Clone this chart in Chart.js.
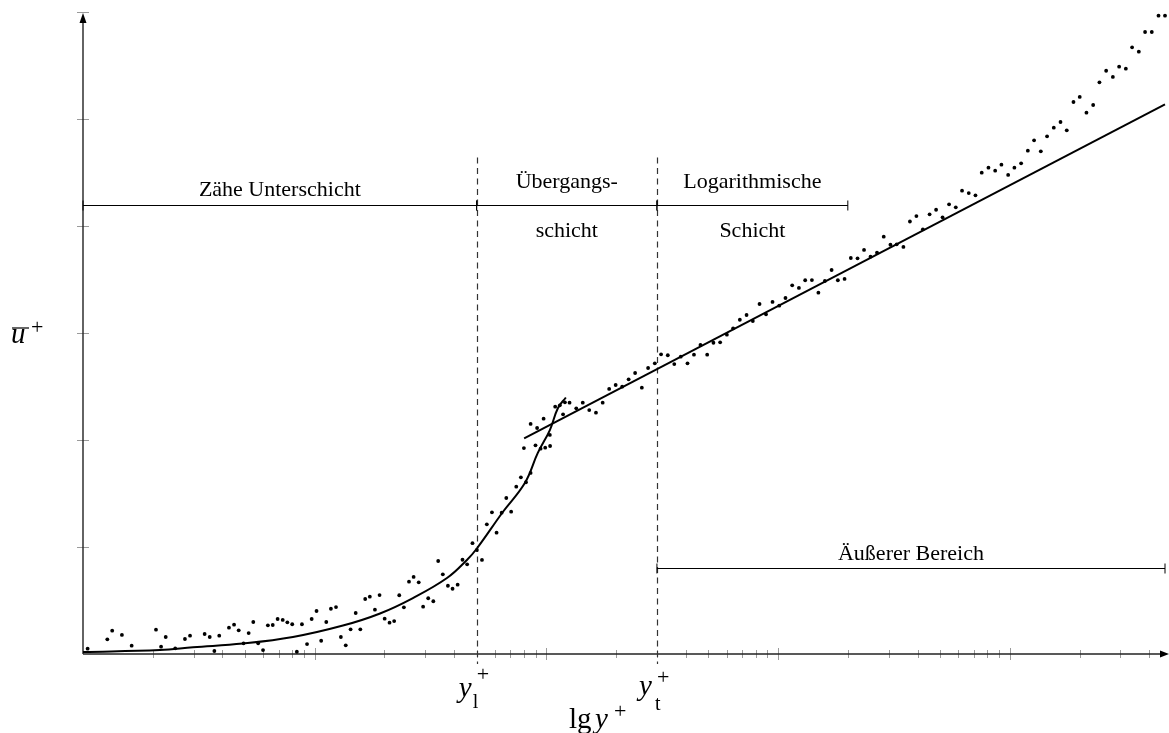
<!DOCTYPE html>
<html>
<head>
<meta charset="utf-8">
<script src="https://cdn.jsdelivr.net/npm/chart.js@4/dist/chart.umd.min.js"></script>
<style>
  html, body { margin: 0; padding: 0; background: #fff; }
  #wrap { width: 1169px; height: 733px; position: relative; }
</style>
</head>
<body>
<div id="wrap"><canvas id="chart-canvas"></canvas></div>
<script>
"use strict";
// measured points: x = lg y+, y = u+ (in tick units)
const dotLg = [
    0.020, 0.105, 0.126, 0.168, 0.210, 0.315, 0.337, 0.357, 0.398, 0.440,
    0.462, 0.525, 0.547, 0.567, 0.588, 0.630, 0.652, 0.672, 0.693, 0.715,
    0.735, 0.756, 0.777, 0.798, 0.819, 0.840, 0.862, 0.882, 0.903, 0.923,
    0.945, 0.967, 0.987, 1.008, 1.028, 1.050, 1.070, 1.092, 1.113, 1.134,
    1.155, 1.177, 1.197, 1.218, 1.238, 1.260, 1.280, 1.302, 1.323, 1.343,
    1.365, 1.385, 1.407, 1.427, 1.449, 1.468, 1.490, 1.512, 1.533, 1.553,
    1.575, 1.595, 1.617, 1.638, 1.658, 1.681, 1.700, 1.722, 1.743, 1.765,
    1.785, 1.807, 1.827, 1.848, 1.870, 1.890, 1.912, 1.932, 1.903, 1.932,
    1.953, 1.960, 1.975, 1.988, 1.995, 2.016, 2.015, 2.038, 2.058, 2.072,
    2.080, 2.100, 2.129, 2.157, 2.185, 2.214, 2.243, 2.271, 2.299, 2.327,
    2.355, 2.383, 2.412, 2.439, 2.468, 2.495, 2.524, 2.552, 2.580, 2.609,
    2.637, 2.665, 2.694, 2.721, 2.750, 2.779, 2.806, 2.835, 2.864, 2.891,
    2.920, 2.948, 2.976, 3.005, 3.032, 3.061, 3.090, 3.117, 3.146, 3.174,
    3.202, 3.231, 3.258, 3.287, 3.314, 3.343, 3.371, 3.399, 3.427, 3.456,
    3.485, 3.512, 3.541, 3.569, 3.597, 3.625, 3.654, 3.682, 3.710, 3.738,
    3.767, 3.794, 3.823, 3.852, 3.879, 3.908, 3.937, 3.964, 3.993, 4.020,
    4.049, 4.078, 4.105, 4.134, 4.161, 4.190, 4.219, 4.246, 4.275, 4.302,
    4.331, 4.360, 4.387, 4.416, 4.445, 4.472, 4.501, 4.528, 4.557, 4.584,
    4.613, 4.642, 4.670
];
const dotU = [
    0.050, 0.137, 0.218, 0.178, 0.078, 0.227, 0.068, 0.159, 0.053, 0.140,
    0.171, 0.187, 0.159, 0.028, 0.171, 0.246, 0.274, 0.221, 0.100, 0.196,
    0.299, 0.100, 0.037, 0.268, 0.271, 0.327, 0.318, 0.296, 0.278, 0.021,
    0.278, 0.093, 0.327, 0.402, 0.124, 0.299, 0.423, 0.439, 0.159, 0.081,
    0.231, 0.383, 0.231, 0.514, 0.536, 0.414, 0.551, 0.330, 0.293, 0.308,
    0.549, 0.436, 0.676, 0.720, 0.670, 0.442, 0.521, 0.493, 0.869, 0.745,
    0.638, 0.610, 0.648, 0.881, 0.838, 1.036, 0.972, 0.879, 1.212, 1.324,
    1.134, 1.321, 1.458, 1.330, 1.564, 1.651, 1.605, 1.692, 1.925, 2.150,
    1.950, 2.112, 1.919, 2.199, 1.928, 1.944, 2.047, 2.311, 2.324, 2.240,
    2.352, 2.349, 2.296, 2.349, 2.280, 2.255, 2.349, 2.477, 2.514, 2.498,
    2.567, 2.626, 2.489, 2.673, 2.717, 2.801, 2.792, 2.710, 2.779, 2.717,
    2.797, 2.888, 2.797, 2.909, 2.913, 2.984, 3.044, 3.124, 3.168, 3.112,
    3.271, 3.175, 3.290, 3.255, 3.327, 3.446, 3.421, 3.493, 3.495, 3.377,
    3.486, 3.589, 3.493, 3.505, 3.701, 3.698, 3.776, 3.713, 3.750, 3.900,
    3.825, 3.829, 3.804, 4.042, 4.093, 3.969, 4.109, 4.152, 4.081, 4.203,
    4.175, 4.330, 4.308, 4.287, 4.498, 4.545, 4.517, 4.573, 4.477, 4.545,
    4.586, 4.704, 4.801, 4.698, 4.838, 4.919, 4.972, 4.894, 5.159, 5.206,
    5.059, 5.131, 5.343, 5.451, 5.393, 5.489, 5.470, 5.670, 5.629, 5.813,
    5.813, 5.966, 5.966
];
// viscous sublayer / buffer curve
const curveLg = [0, 0.332, 0.475, 0.690, 0.906, 1.122, 1.282, 1.424, 1.571, 1.657, 1.700, 1.812, 1.907, 1.963, 2.015, 2.050, 2.084];
const curveU = [0.019, 0.037, 0.063, 0.098, 0.159, 0.266, 0.379, 0.523, 0.710, 0.879, 0.986, 1.327, 1.598, 1.879, 2.093, 2.299, 2.397];
// log law line
const logLawLg = [1.904, 4.670];
const logLawU = [2.016, 5.136];
// axis ticks (y+ values) and u+ ticks
const xTickValues = [2, 3, 4, 5, 6, 7, 8, 9, 10, 20, 30, 40, 50, 60, 70, 80, 90, 100,
    200, 300, 400, 500, 600, 700, 800, 900, 1000, 2000, 3000, 4000, 5000, 6000, 7000, 8000, 9000, 10000,
    20000, 30000, 40000];
const xMajorTicks = [10, 100, 1000, 10000];
const yTickValues = [1, 2, 3, 4, 5, 6];
// y+ at the layer borders (y_l^+, y_t^+)
const layerBounds = [50, 300];
// region brackets: [from y+, to y+], label lines
const upperRegions = [
    { from: 1, to: 50, above: "Zähe Unterschicht", below: "" },
    { from: 50, to: 300, above: "Übergangs-", below: "schicht" },
    { from: 300, to: 2000, above: "Logarithmische", below: "Schicht" },
];
const outerRegion = { from: 300, to: 46774, above: "Äußerer Bereich" };
const upperBracketU = 4.196;
const outerBracketU = 0.804;

function toPoints(xs, ys) {
    return xs.map((x, i) => ({ x: x, y: ys[i] }));
}
function line(ctx, x1, y1, x2, y2) {
    ctx.beginPath();
    ctx.moveTo(x1, y1);
    ctx.lineTo(x2, y2);
    ctx.stroke();
}

const layerPlugin = {
    id: "layers",
    beforeDatasetsDraw(chart) {
        const ctx = chart.ctx;
        const a = chart.chartArea;
        const x = chart.scales.x;
        const y = chart.scales.y;
        ctx.save();
        // ticks
        ctx.strokeStyle = "#9a9a9a";
        ctx.lineWidth = 1;
        xTickValues.forEach(v => {
            let p = Math.round(x.getPixelForValue(Math.log10(v))) + 0.5;
            let h = xMajorTicks.includes(v) ? 6 : 4;
            line(ctx, p, a.bottom - h, p, a.bottom + h);
        });
        yTickValues.forEach(v => {
            let p = Math.round(y.getPixelForValue(v)) + 0.5;
            line(ctx, a.left - 6, p, a.left + 6, p);
        });
        // axes
        ctx.strokeStyle = "#222";
        ctx.lineWidth = 1.4;
        line(ctx, a.left, a.bottom, 1162, a.bottom);
        line(ctx, a.left, a.bottom, a.left, a.top + 9);
        ctx.fillStyle = "#000";
        ctx.beginPath();
        ctx.moveTo(1169, a.bottom);
        ctx.lineTo(1160, a.bottom - 3.5);
        ctx.lineTo(1160, a.bottom + 3.5);
        ctx.closePath();
        ctx.fill();
        ctx.beginPath();
        ctx.moveTo(a.left, a.top + 1);
        ctx.lineTo(a.left - 3.5, a.top + 11);
        ctx.lineTo(a.left + 3.5, a.top + 11);
        ctx.closePath();
        ctx.fill();
        // dashed layer borders
        ctx.strokeStyle = "#333";
        ctx.lineWidth = 1.2;
        ctx.setLineDash([6, 4.5]);
        layerBounds.forEach(b => {
            let p = Math.round(x.getPixelForValue(Math.log10(b))) + 0.5;
            line(ctx, p, y.getPixelForValue(4.64), p, a.bottom + 10);
        });
        ctx.setLineDash([]);
        // brackets
        ctx.strokeStyle = "#000";
        ctx.lineWidth = 1;
        const bracket = (r, u) => {
            let x1 = x.getPixelForValue(Math.log10(r.from));
            let x2 = Math.min(x.getPixelForValue(Math.log10(r.to)), a.right);
            let py = Math.round(y.getPixelForValue(u)) + 0.5;
            line(ctx, x1, py, x2, py);
            line(ctx, x1, py - 5, x1, py + 5);
            line(ctx, x2, py - 5, x2, py + 5);
            return { x1: x1, x2: x2, py: py };
        };
        ctx.fillStyle = "#000";
        ctx.font = "22px 'Liberation Serif'";
        ctx.textAlign = "center";
        upperRegions.forEach((r, i) => {
            let b = bracket(r, upperBracketU);
            let cx = (b.x1 + b.x2) / 2;
            ctx.fillText(r.above, cx, b.py - (i === 0 ? 10 : 18));
            if (r.below) ctx.fillText(r.below, cx, b.py + 31);
        });
        let ob = bracket(outerRegion, outerBracketU);
        ctx.fillText(outerRegion.above, (ob.x1 + ob.x2) / 2, ob.py - 9);
        ctx.restore();
    },
    afterDraw(chart) {
        const ctx = chart.ctx;
        const x = chart.scales.x;
        ctx.save();
        ctx.fillStyle = "#000";
        ctx.textAlign = "left";
        const it = "italic 29px 'Liberation Serif'";
        const rm = "29px 'Liberation Serif'";
        const sup = "22px 'Liberation Serif'";
        const sub = "20px 'Liberation Serif'";
        // u+ with overline
        ctx.font = it;
        ctx.fillText("u", 11, 343);
        ctx.strokeStyle = "#000";
        ctx.lineWidth = 1.2;
        line(ctx, 12, 328, 29, 328);
        ctx.font = sup;
        ctx.fillText("+", 31, 334);
        // y_l^+ and y_t^+
        const labels = [[layerBounds[0], "l", 0], [layerBounds[1], "t", 1]];
        labels.forEach(l => {
            let p = x.getPixelForValue(Math.log10(l[0]));
            ctx.font = it;
            ctx.fillText("y", p - 18, 697 - l[2] * 2);
            ctx.font = sub;
            ctx.fillText(l[1], p - 4 + l[2] * 2, 708 + l[2] * 2);
            ctx.font = sup;
            ctx.fillText("+", p + 0, 681 + l[2] * 3);
        });
        // lg y+
        ctx.font = rm;
        ctx.fillText("lg", 569, 728);
        ctx.font = it;
        ctx.fillText("y", 595, 728);
        ctx.font = sup;
        ctx.fillText("+", 614, 718);
        ctx.restore();
    }
};

function createChart() {
    const canvas = document.getElementById("chart-canvas");
    const context = canvas.getContext("2d");
    if (context === null) {
        console.error("failed to create canvas context");
        return;
    }
    new Chart(context, {
        type: "scatter",
        data: {
            datasets: [
                {
                    label: "measured",
                    data: toPoints(dotLg, dotU),
                    pointRadius: 1.9,
                    pointBackgroundColor: "#000",
                    pointBorderWidth: 0,
                    showLine: false,
                    clip: false,
                },
                {
                    label: "sublayer",
                    data: toPoints(curveLg, curveU),
                    showLine: true,
                    borderColor: "#000",
                    borderWidth: 2,
                    pointRadius: 0,
                    tension: 0.4,
                    clip: false,
                },
                {
                    label: "log law",
                    data: toPoints(logLawLg, logLawU),
                    showLine: true,
                    borderColor: "#000",
                    borderWidth: 2,
                    pointRadius: 0,
                    clip: false,
                },
            ],
        },
        options: {
            responsive: true,
            maintainAspectRatio: false,
            animation: false,
            layout: { padding: { left: 83, right: 4, top: 12, bottom: 79 } },
            plugins: { legend: { display: false }, tooltip: { enabled: false } },
            scales: {
                x: { type: "linear", min: 0, max: 4.67, display: false },
                y: { type: "linear", min: 0, max: 6, display: false },
            },
        },
        plugins: [layerPlugin],
    });
}
document.addEventListener("DOMContentLoaded", createChart);
</script>
</body>
</html>
